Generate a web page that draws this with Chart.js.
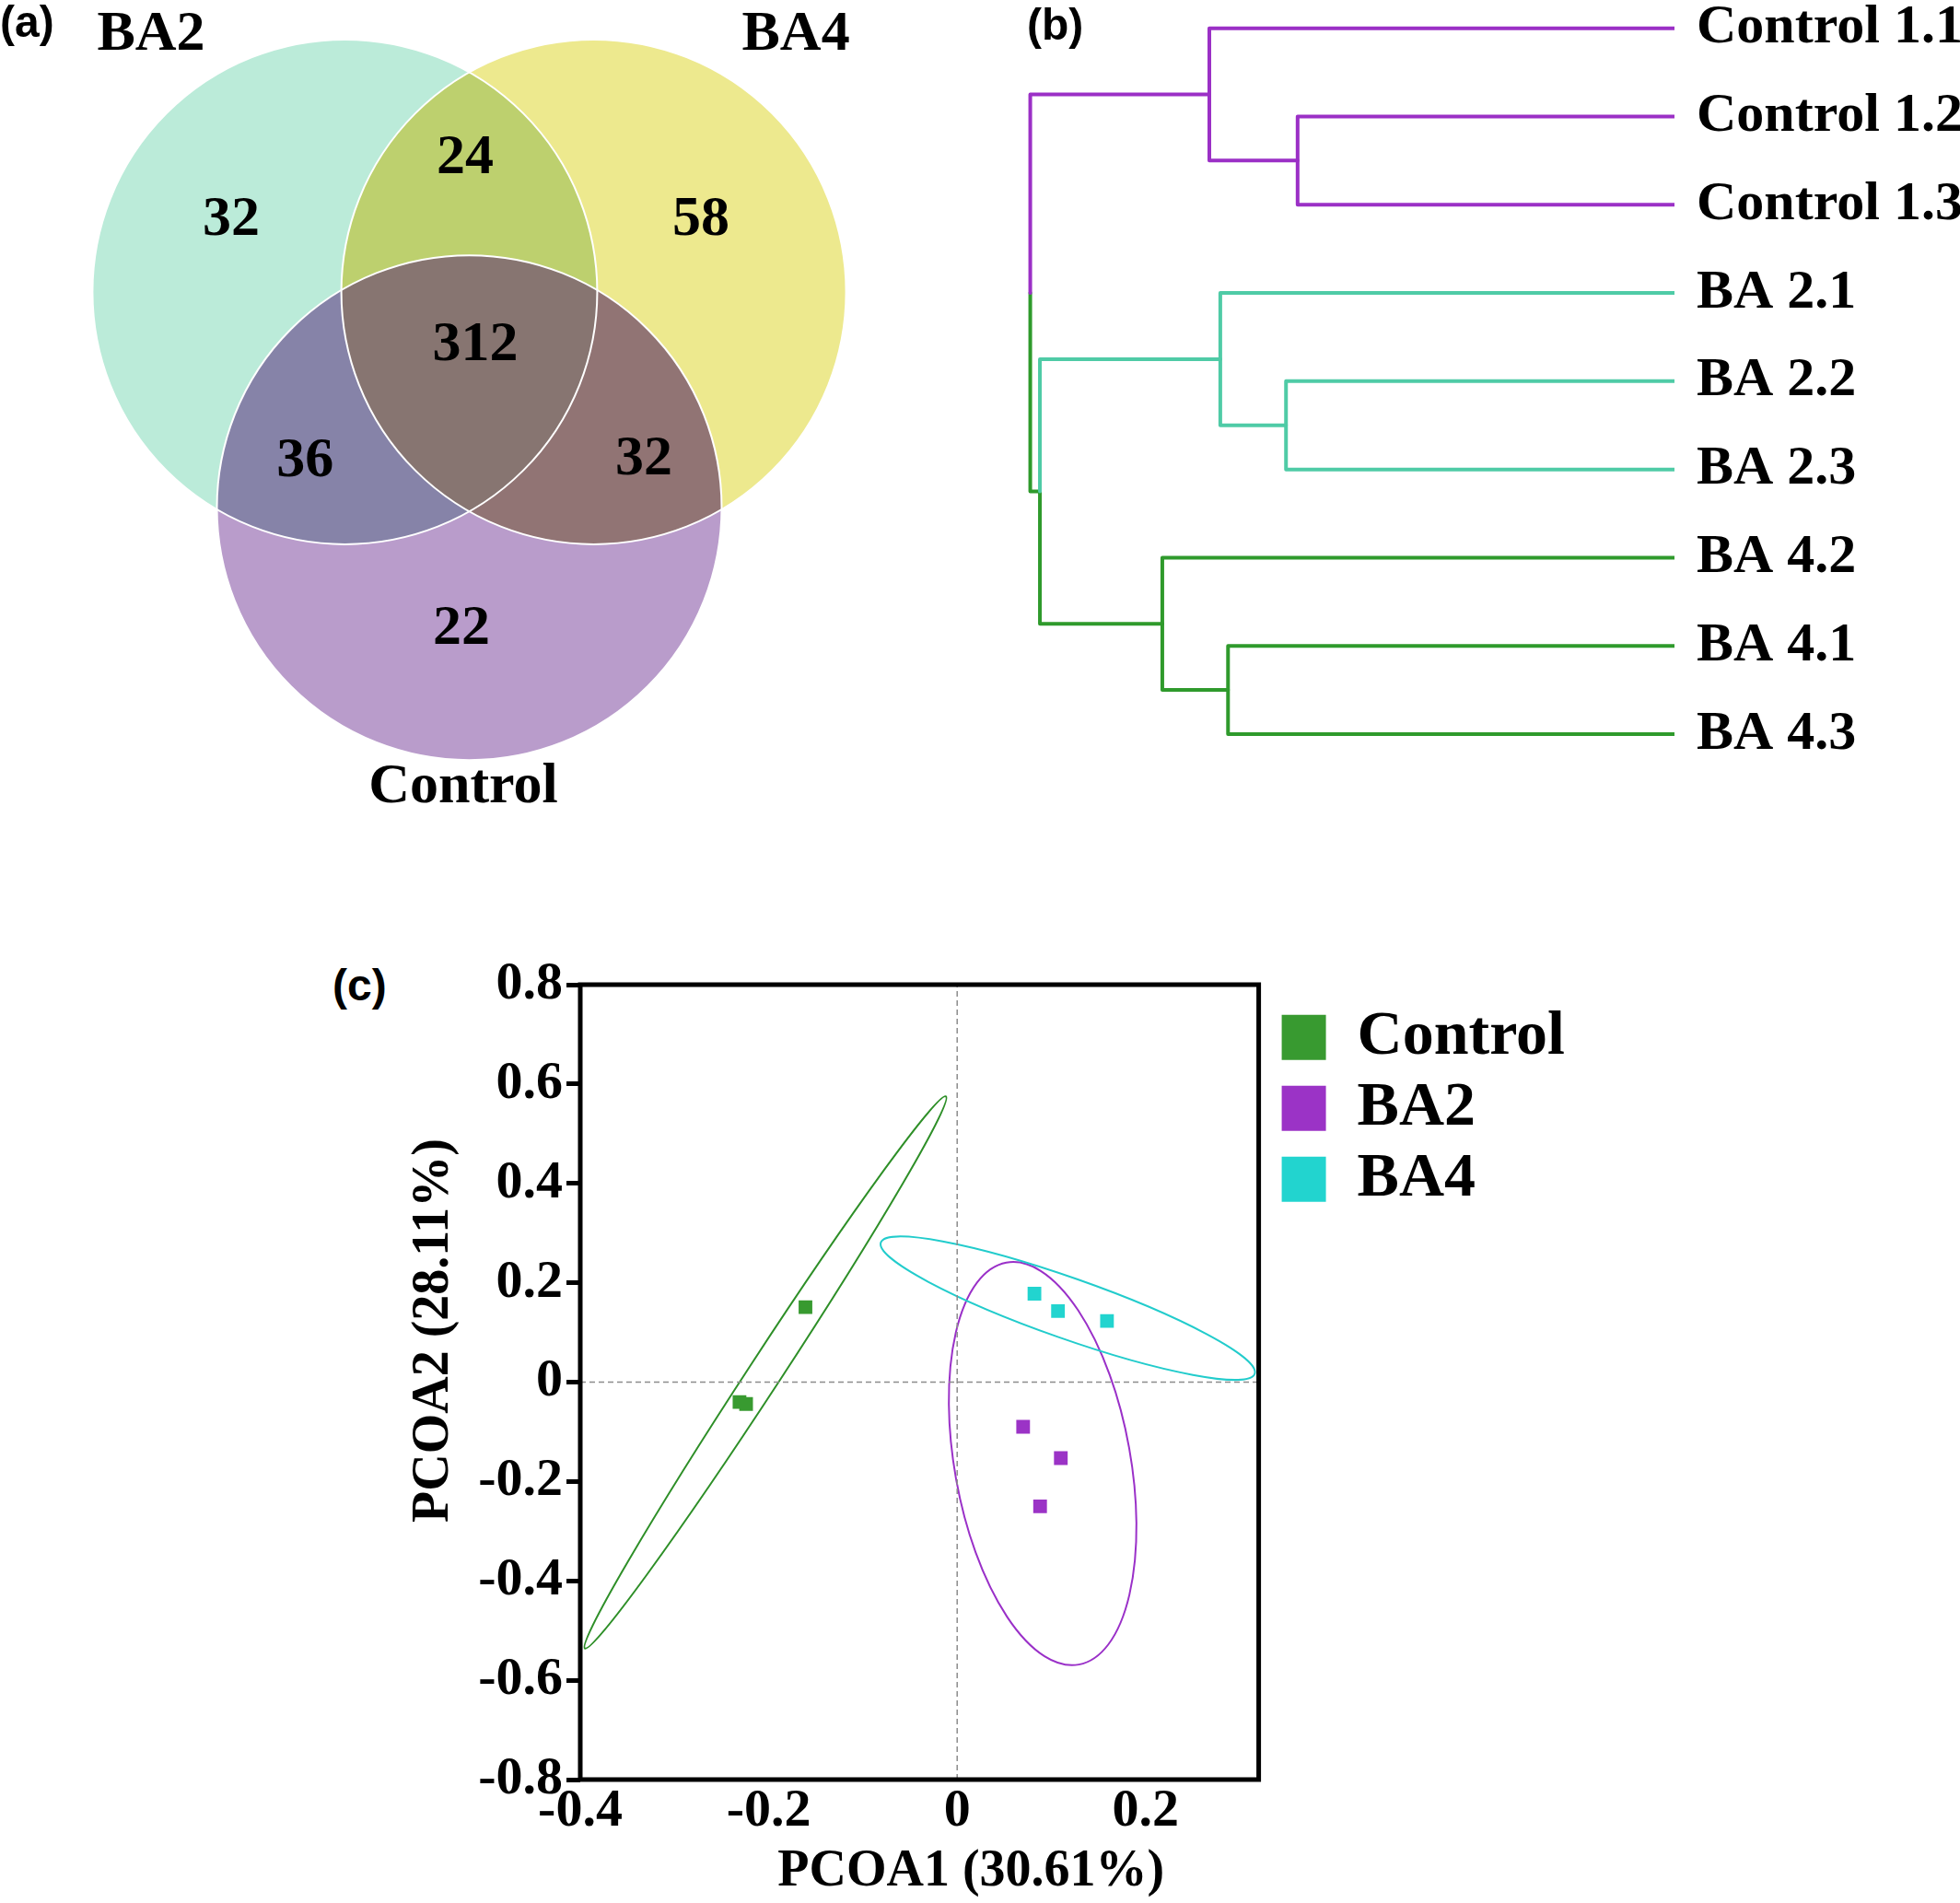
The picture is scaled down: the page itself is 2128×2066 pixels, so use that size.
<!DOCTYPE html>
<html>
<head>
<meta charset="utf-8">
<script src="https://cdn.jsdelivr.net/npm/chart.js@4.4.1/dist/chart.umd.min.js"></script>
<style>
  html, body { margin: 0; padding: 0; background: #fff; width: 2128px; height: 2066px; overflow: hidden; }
  canvas { position: absolute; }
  .tag { position: absolute; font: bold 48px "Liberation Sans", Arial, sans-serif; line-height: 1; color: #000; }
</style>
</head>
<body>
<canvas id="venn" style="left:0;top:0" width="1064" height="900"></canvas>
<canvas id="dendro" style="left:1064px;top:0" width="1064" height="900"></canvas>
<canvas id="pcoa" style="left:434px;top:980px" width="1275" height="1086"></canvas>
<div class="tag" style="left:0;top:0">(a)</div>
<div class="tag" style="left:1115px;top:3px">(b)</div>
<div class="tag" style="left:361px;top:1046px">(c)</div>
<script>
// ---- data ----
// (a) shared OTUs
const vennSets = ['BA2', 'BA4', 'Control'];
const vennRegions = ['BA2', 'BA4', 'Control', 'BA2&BA4', 'BA2&Control', 'BA4&Control', 'all'];
const vennCounts = [32, 58, 22, 24, 36, 32, 312];

// (b) clustering, leaves top to bottom
const leafLabels = ['Control 1.1', 'Control 1.2', 'Control 1.3', 'BA 2.1', 'BA 2.2', 'BA 2.3', 'BA 4.2', 'BA 4.1', 'BA 4.3'];
// [child a, child b, height]; ids >= 9 are earlier merges
const linkage = [
  [1, 2, 0.585], [0, 9, 0.722], [4, 5, 0.603], [3, 11, 0.705],
  [7, 8, 0.693], [6, 13, 0.795], [12, 14, 0.985], [10, 15, 1.0]
];

// (c) PCoA
const pcoaGroups = ['Control', 'BA2', 'BA4'];
const controlX = [-0.161, -0.231, -0.224];
const controlY = [0.151, -0.040, -0.044];
const ba2X = [0.070, 0.110, 0.088];
const ba2Y = [-0.090, -0.153, -0.250];
const ba4X = [0.082, 0.107, 0.159];
const ba4Y = [0.178, 0.143, 0.123];
// confidence ellipses: centre, half major axis, half minor axis
const ellCentre = [[-0.2035, 0.0195], [0.0907, -0.164], [0.1174, 0.1489]];
const ellMajor = [[0.1916, 0.5555], [-0.0385, 0.4045], [0.1984, -0.1322]];
const ellMinor = [[0.01448, -0.01816], [0.0918, 0.0318], [-0.0106, -0.0578]];
const xTickVals = [-0.4, -0.2, 0, 0.2];
const xTickLabels = ['-0.4', '-0.2', '0', '0.2'];
const yTickVals = [0.8, 0.6, 0.4, 0.2, 0, -0.2, -0.4, -0.6, -0.8];
const yTickLabels = ['0.8', '0.6', '0.4', '0.2', '0', '-0.2', '-0.4', '-0.6', '-0.8'];

// ---- styles ----
const SERIF = '"Liberation Serif", "Times New Roman", serif';
Chart.defaults.font.family = SERIF;
Chart.defaults.color = '#000';

const vennGeom = {
  centres: [[-0.493, 0.285], [0.493, 0.285], [0, -0.57]],
  r: 1,
  regionPos: [[-0.943, 0.569], [0.918, 0.569], [-0.031, -1.051], [-0.016, 0.814], [-0.651, -0.387], [0.692, -0.380], [0.024, 0.073]],
  setPos: [[-1.261, 1.303], [1.294, 1.303], [-0.024, -1.679]]
};
const vennFill = ['#bbebd9', '#ede98e', '#b99ccb'];
const vennPairFill = ['#bdd06e', '#8683a8', '#917474'];   // BA2&BA4, BA2&Control, BA4&Control
const vennCoreFill = '#877571';

const PURPLE = '#9b30c6', TEAL = '#4fcba6', GREEN = '#2f9a2c';
const linkColors = [
  [PURPLE, PURPLE], [PURPLE, PURPLE], [TEAL, TEAL], [TEAL, TEAL],
  [GREEN, GREEN], [GREEN, GREEN], [TEAL, GREEN], [PURPLE, GREEN]
];

const groupColor = ['#389a30', '#9b33c6', '#22d4cf'];
const groupBorder = ['#2c8a26', '#8a2ab3', '#1cc4bf'];
const ellColor = ['#2e8f28', '#9a30c8', '#22cccc'];

// ---- (a) Venn ----
function circlePath(ctx, c) {
  ctx.beginPath();
  ctx.arc(c.x, c.y, c.r, 0, Math.PI * 2);
}

const vennPlugin = {
  id: 'venn',
  beforeDatasetsDraw(chart) {
    const { ctx, scales: { x, y } } = chart;
    const cs = vennGeom.centres.map(([cx, cy]) => ({
      x: x.getPixelForValue(cx),
      y: y.getPixelForValue(cy),
      r: x.getPixelForValue(cx + vennGeom.r) - x.getPixelForValue(cx)
    }));
    ctx.save();
    cs.forEach((c, i) => { circlePath(ctx, c); ctx.fillStyle = vennFill[i]; ctx.fill(); });
    [[0, 1], [0, 2], [1, 2]].forEach(([i, j], k) => {
      ctx.save();
      circlePath(ctx, cs[i]); ctx.clip();
      circlePath(ctx, cs[j]); ctx.fillStyle = vennPairFill[k]; ctx.fill();
      ctx.restore();
    });
    ctx.save();
    circlePath(ctx, cs[0]); ctx.clip();
    circlePath(ctx, cs[1]); ctx.clip();
    circlePath(ctx, cs[2]); ctx.fillStyle = vennCoreFill; ctx.fill();
    ctx.restore();
    cs.forEach(c => { circlePath(ctx, c); ctx.strokeStyle = '#ffffff'; ctx.lineWidth = 2; ctx.stroke(); });
    ctx.restore();
  },
  afterDatasetsDraw(chart) {
    const { ctx, scales: { x, y } } = chart;
    ctx.save();
    ctx.fillStyle = '#000';
    ctx.textAlign = 'center';
    ctx.textBaseline = 'middle';
    ctx.font = 'bold 62px ' + SERIF;
    chart.data.datasets[0].data.forEach(p => {
      ctx.fillText(String(p.v), x.getPixelForValue(p.x), y.getPixelForValue(p.y));
    });
    vennSets.forEach((s, i) => {
      const [sx, sy] = vennGeom.setPos[i];
      ctx.fillText(s, x.getPixelForValue(sx), y.getPixelForValue(sy));
    });
    ctx.restore();
  }
};

new Chart(document.getElementById('venn'), {
  type: 'scatter',
  data: {
    datasets: [{
      label: 'shared',
      data: vennRegions.map((r, i) => ({ x: vennGeom.regionPos[i][0], y: vennGeom.regionPos[i][1], v: vennCounts[i] })),
      pointRadius: 0
    }]
  },
  options: {
    responsive: false,
    animation: false,
    layout: { autoPadding: false, padding: 0 },
    plugins: { legend: { display: false }, tooltip: { enabled: false } },
    scales: {
      x: { type: 'linear', display: false, min: -1.8595, max: 2.0237 },
      y: { type: 'linear', display: false, min: -1.843, max: 1.4416 }
    }
  },
  plugins: [vennPlugin]
});

// ---- (b) dendrogram ----
const nodes = leafLabels.map((_, i) => ({ h: 0, y: i + 1 }));
const dendroSets = [];
function branch(points, color) {
  return {
    data: points, showLine: true, pointRadius: 0, borderColor: color,
    borderWidth: 4, borderJoinStyle: 'round', fill: false, clip: 10
  };
}
linkage.forEach(([a, b, h], k) => {
  const A = nodes[a], B = nodes[b];
  const y = (A.y + B.y) / 2;
  nodes.push({ h, y });
  dendroSets.push(branch([{ x: A.h, y: A.y }, { x: h, y: A.y }, { x: h, y }], linkColors[k][0]));
  dendroSets.push(branch([{ x: h, y }, { x: h, y: B.y }, { x: B.h, y: B.y }], linkColors[k][1]));
});

new Chart(document.getElementById('dendro'), {
  type: 'scatter',
  data: { datasets: dendroSets },
  options: {
    responsive: false,
    animation: false,
    layout: { autoPadding: false, padding: 0 },
    plugins: { legend: { display: false }, tooltip: { enabled: false } },
    scales: {
      x: { type: 'linear', display: false, reverse: true, min: 0, max: 1.078 },
      y: {
        type: 'linear', position: 'right', reverse: true, min: 0.68, max: 10.075,
        afterBuildTicks: s => { s.ticks = leafLabels.map((_, i) => ({ value: i + 1 })); },
        afterFit: s => { s.width = 310; s.paddingTop = 0; s.paddingBottom = 0; },
        ticks: {
          callback: (v, i) => leafLabels[i], autoSkip: false, padding: 24,
          color: '#000', font: { size: 60, weight: 'bold' }
        },
        grid: { display: false, drawTicks: false },
        border: { display: false }
      }
    }
  }
});

// ---- (c) PCoA ----
const ellipsePlugin = {
  id: 'ellipses',
  beforeDatasetsDraw(chart) {
    const { ctx, scales: { x, y } } = chart;
    ellCentre.forEach(([cx, cy], i) => {
      const c = { x: x.getPixelForValue(cx), y: y.getPixelForValue(cy) };
      const u = { x: x.getPixelForValue(cx + ellMajor[i][0]) - c.x, y: y.getPixelForValue(cy + ellMajor[i][1]) - c.y };
      const v = { x: x.getPixelForValue(cx + ellMinor[i][0]) - c.x, y: y.getPixelForValue(cy + ellMinor[i][1]) - c.y };
      ctx.save();
      ctx.beginPath();
      ctx.transform(u.x, u.y, v.x, v.y, c.x, c.y);
      ctx.arc(0, 0, 1, 0, Math.PI * 2);
      ctx.restore();
      ctx.save();
      ctx.strokeStyle = ellColor[i];
      ctx.lineWidth = 2;
      ctx.stroke();
      ctx.restore();
    });
  }
};
const framePlugin = {
  id: 'frame',
  afterDatasetsDraw(chart) {
    const { ctx, chartArea: a } = chart;
    ctx.save();
    ctx.strokeStyle = '#000';
    ctx.lineWidth = 5;
    ctx.strokeRect(a.left, a.top, a.right - a.left, a.bottom - a.top);
    ctx.restore();
  }
};

function zip(xs, ys) { return xs.map((v, i) => ({ x: v, y: ys[i] })); }
function group(i, xs, ys) {
  return {
    label: pcoaGroups[i], data: zip(xs, ys), pointStyle: 'rect', pointRadius: 10.5,
    backgroundColor: groupColor[i], borderColor: groupBorder[i], borderWidth: 1.5, pointBorderWidth: 0
  };
}
function guide(points) {
  return {
    label: 'guide', data: points, showLine: true, pointRadius: 0,
    borderColor: '#8c8c8c', borderWidth: 1.5, borderDash: [6, 4]
  };
}
const tickFont = { size: 58, weight: 'bold' };
const titleFont = { size: 56, weight: 'bold' };

new Chart(document.getElementById('pcoa'), {
  type: 'scatter',
  data: {
    datasets: [
      guide([{ x: 0, y: -0.8 }, { x: 0, y: 0.8 }]),
      guide([{ x: -0.4, y: 0 }, { x: 0.32, y: 0 }]),
      group(0, controlX, controlY),
      group(1, ba2X, ba2Y),
      group(2, ba4X, ba4Y)
    ]
  },
  options: {
    responsive: false,
    animation: false,
    layout: { autoPadding: false, padding: { top: 89, left: 0, right: 0, bottom: 0 } },
    plugins: {
      tooltip: { enabled: false },
      legend: {
        position: 'right', align: 'start', maxWidth: 500,
        title: { display: true, text: '', font: { size: 1 }, padding: { top: 13, bottom: 0 } },
        labels: {
          filter: item => pcoaGroups.includes(item.text),
          boxWidth: 48, boxHeight: 49, padding: 9, color: '#000',
          font: { size: 68, weight: 'bold' }
        }
      }
    },
    scales: {
      x: {
        type: 'linear', min: -0.4, max: 0.32,
        afterBuildTicks: s => { s.ticks = xTickVals.map(v => ({ value: v })); },
        afterFit: s => { s.height = 134; },
        ticks: { callback: (v, i) => xTickLabels[i], autoSkip: false, maxRotation: 0, padding: 0, color: '#000', font: tickFont },
        grid: { display: false, drawTicks: false },
        border: { display: false },
        title: { display: true, text: '\u2003\u2003PCOA1 (30.61%)', color: '#000', font: titleFont, padding: { top: 0, bottom: 0 } }
      },
      y: {
        type: 'linear', min: -0.8, max: 0.8,
        afterBuildTicks: s => { s.ticks = yTickVals.map(v => ({ value: v })); },
        afterFit: s => { s.width = 196; },
        ticks: { callback: (v, i) => yTickLabels[i], autoSkip: false, padding: 4, color: '#000', font: tickFont },
        grid: { drawOnChartArea: false, drawTicks: true, tickLength: 15, tickWidth: 5, tickColor: '#000', color: '#000' },
        border: { display: false },
        title: { display: true, text: '\u2003\u2003PCOA2 (28.11%)', color: '#000', font: titleFont, padding: { top: 4, bottom: 0 } }
      },
      y2: {
        type: 'linear', position: 'right', display: true,
        afterFit: s => { s.width = 16; },
        ticks: { display: false },
        grid: { display: false, drawTicks: false },
        border: { display: false }
      }
    }
  },
  plugins: [ellipsePlugin, framePlugin]
});
</script>
</body>
</html>
